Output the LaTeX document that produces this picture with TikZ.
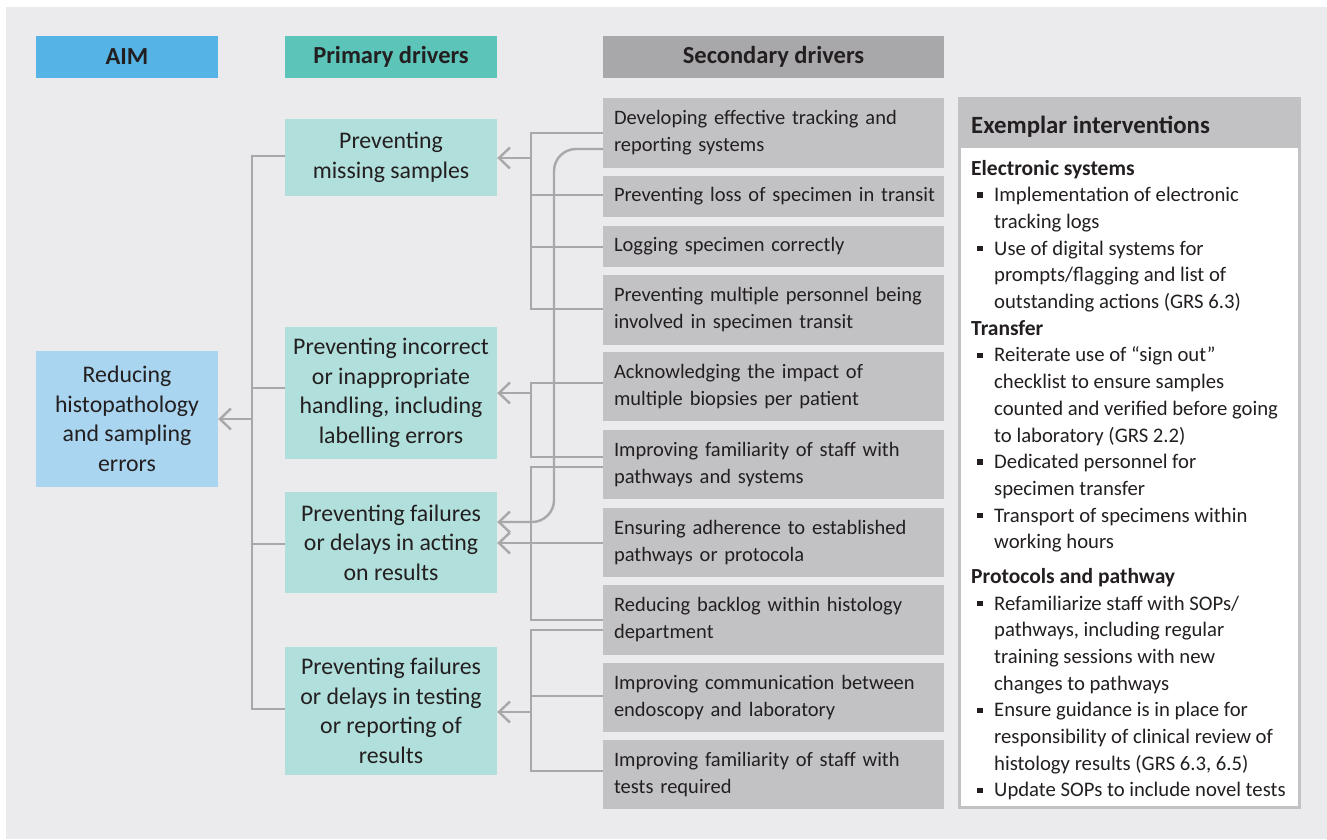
\documentclass[tikz,border=0pt]{standalone}
\usepackage{fontspec}
\setmainfont{Carlito}
\usetikzlibrary{arrows.meta}
\definecolor{bg}{HTML}{EBEBED}
\definecolor{aimh}{HTML}{55B3E6}
\definecolor{primh}{HTML}{5DC4BA}
\definecolor{sech}{HTML}{A8A8AA}
\definecolor{aimc}{HTML}{A9D5F0}
\definecolor{primc}{HTML}{B1DFDB}
\definecolor{secc}{HTML}{C2C2C4}
\definecolor{linec}{HTML}{A8A8AA}
\definecolor{txt}{HTML}{231F20}
\newcommand{\sqbul}{\llap{\rule[3.8pt]{5.5pt}{5.5pt}\hspace{11.5pt}}}
\hfuzz=20pt
\begin{document}
\begin{tikzpicture}[x=1pt,y=-1pt,
  every node/.style={text=txt},
  hdr/.style={font=\bfseries\fontsize{24.5}{28}\selectfont, minimum height=42pt, inner sep=0pt},
  aimbox/.style={fill=aimc, minimum width=182pt, minimum height=136pt, inner sep=0pt, align=center, font=\fontsize{23.8}{29.5}\selectfont},
  prim/.style={fill=primc, minimum width=212pt, inner sep=0pt, align=center, font=\fontsize{23.8}{29.5}\selectfont},
  sec/.style={fill=secc, minimum width=341pt, text width=319pt, inner xsep=11pt, inner ysep=0pt, align=left, font=\fontsize{20.5}{27}\selectfont},
  exl/.style={anchor=base west, inner sep=0pt, font=\fontsize{20.7}{27}\selectfont},
  exhd/.style={exl, font=\bfseries\fontsize{21.5}{27}\selectfont},
  conn/.style={draw=linec, line width=2.4pt},
  arr/.style={conn, -{Straight Barb[length=11pt,width=21pt]}}
]
\fill[white] (0,0) rectangle (1327,839);
\useasboundingbox (0,0) rectangle (1327,839);
\fill[bg] (6,7) rectangle (1327,839);

% headers
\node[hdr, fill=aimh, minimum width=182pt] (aimhd) at (127,57) {AIM};
\node[hdr, fill=primh, minimum width=212pt] (primhd) at (391,57) {Primary drivers};
\node[hdr, fill=sech, minimum width=341pt] (sechd) at (773.5,57) {Secondary drivers};

% aim
\node[aimbox] (aim) at (127,419) {Reducing\\histopathology\\and sampling\\errors};

% primary
\node[prim, minimum height=77pt] (p1) at (391,157.5) {Preventing\\missing samples};
\node[prim, minimum height=132pt] (p2) at (391,393) {Preventing incorrect\\or inappropriate\\handling, including\\labelling errors};
\node[prim, minimum height=101pt] (p3) at (391,542.5) {Preventing failures\\or delays in acting\\on results};
\node[prim, minimum height=128pt] (p4) at (391,711) {Preventing failures\\or delays in testing\\or reporting of\\results};

% secondary
\node[sec, minimum height=70pt] (s1) at (773.5,133) {Developing effective tracking and\\reporting systems};
\node[sec, minimum height=41pt] (s2) at (773.5,196.5) {\mbox{Preventing loss of specimen in transit}};
\node[sec, minimum height=41pt] (s3) at (773.5,246.5) {Logging specimen correctly};
\node[sec, minimum height=70pt] (s4) at (773.5,310) {Preventing multiple personnel being\\involved in specimen transit};
\node[sec, minimum height=69pt] (s5) at (773.5,386.5) {Acknowledging the impact of\\multiple biopsies per patient};
\node[sec, minimum height=69pt] (s6) at (773.5,464.5) {Improving familiarity of staff with\\pathways and systems};
\node[sec, minimum height=69pt] (s7) at (773.5,542.5) {Ensuring adherence to established\\pathways or protocola};
\node[sec, minimum height=70pt] (s8) at (773.5,620) {Reducing backlog within histology\\department};
\node[sec, minimum height=69pt] (s9) at (773.5,697.5) {Improving communication between\\endoscopy and laboratory};
\node[sec, minimum height=69pt] (s10) at (773.5,774.5) {Improving familiarity of staff with\\tests required};

% exemplar box
\node[fill=secc, anchor=north west, minimum width=343pt, minimum height=712pt, inner sep=0pt] (exbox) at (958,97) {};
\node[fill=white, anchor=north west, minimum width=337pt, minimum height=658pt, inner sep=0pt] (exbody) at (961,148) {};
\node[anchor=base west, inner sep=0pt, font=\bfseries\fontsize{24.8}{28}\selectfont] (exhd) at (971,133) {Exemplar interventions};

\node[exhd] (e1) at (971,175) {Electronic systems};
\node[exl] (e2) at (994,201.7) {\sqbul Implementation of electronic};
\node[exl] (e3) at (994,228.4) {tracking logs};
\node[exl] (e4) at (994,255.1) {\sqbul Use of digital systems for};
\node[exl] (e5) at (994,281.8) {prompts/flagging and list of};
\node[exl] (e6) at (994,308.5) {outstanding actions (GRS 6.3)};
\node[exhd] (e7) at (971,335.2) {Transfer};
\node[exl] (e8) at (994,361.9) {\sqbul Reiterate use of “sign out”};
\node[exl] (e9) at (994,388.6) {checklist to ensure samples};
\node[exl] (e10) at (994,415.3) {counted and verified before going};
\node[exl] (e11) at (994,442) {to laboratory (GRS 2.2)};
\node[exl] (e12) at (994,468.7) {\sqbul Dedicated personnel for};
\node[exl] (e13) at (994,495.4) {specimen transfer};
\node[exl] (e14) at (994,522.1) {\sqbul Transport of specimens within};
\node[exl] (e15) at (994,548.8) {working hours};
\node[exhd] (e16) at (971,583.3) {Protocols and pathway};
\node[exl] (e17) at (994,610) {\sqbul Refamiliarize staff with SOPs/};
\node[exl] (e18) at (994,636.7) {pathways, including regular};
\node[exl] (e19) at (994,663.4) {training sessions with new};
\node[exl] (e20) at (994,690.1) {changes to pathways};
\node[exl] (e21) at (994,716.8) {\sqbul Ensure guidance is in place for};
\node[exl] (e22) at (994,743.5) {responsibility of clinical review of};
\node[exl] (e23) at (994,770.2) {histology results (GRS 6.3, 6.5)};
\node[exl] (e24) at (994,796.9) {\sqbul Update SOPs to include novel tests};

% connectors secondary -> primary
\draw[conn] (s1.west |- 0,133) -- (531,133) -- (531,309) -- (s4.west |- 0,309);
\draw[conn] (s2.west |- 0,195) -- (531,195);
\draw[conn] (s3.west |- 0,247) -- (531,247);
\draw[arr] (531,158) -- (p1.east |- 0,158);

\draw[arr, rounded corners=22pt] (s1.west |- 0,149) -- (554,149) -- (554,522) -- (p3.east |- 0,522);

\draw[conn] (s5.west |- 0,383) -- (531,383) -- (531,457) -- (s6.west |- 0,457);
\draw[arr] (531,393) -- (p2.east |- 0,393);

\draw[conn] (s6.west |- 0,467) -- (531,467) -- (531,620) -- (s8.west |- 0,620);
\draw[arr] (s7.west |- 0,543) -- (p3.east |- 0,543);

\draw[conn] (s8.west |- 0,630) -- (531,630) -- (531,771) -- (s10.west |- 0,771);
\draw[conn] (s9.west |- 0,696) -- (531,696);
\draw[arr] (531,712) -- (p4.east |- 0,712);

% primary -> aim
\draw[conn] (p1.west |- 0,156) -- (252,156) -- (252,709) -- (p4.west |- 0,709);
\draw[conn] (p2.west |- 0,388) -- (252,388);
\draw[conn] (p3.west |- 0,544) -- (252,544);
\draw[arr] (252,419) -- (aim.east |- 0,419);
\end{tikzpicture}
\end{document}
